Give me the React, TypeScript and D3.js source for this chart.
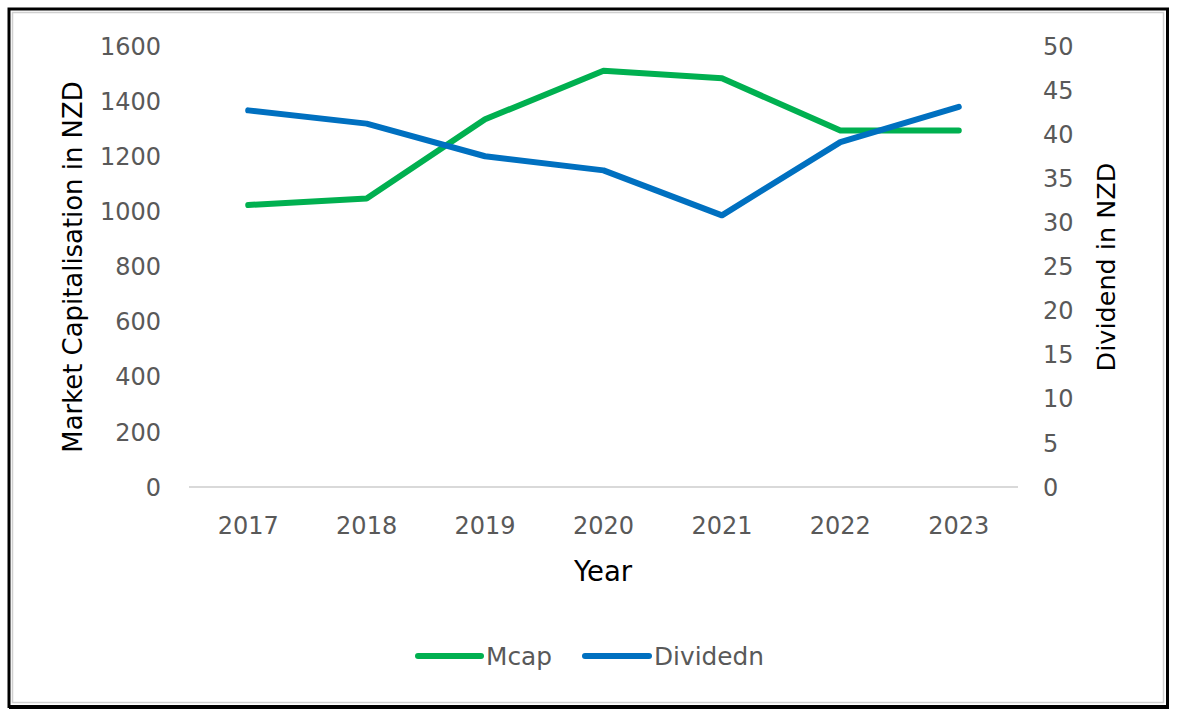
import React from "react";
import * as d3 from "d3";

const years = ["2017", "2018", "2019", "2020", "2021", "2022", "2023"];
const mcap = [1023, 1047, 1334, 1510, 1483, 1293, 1293];
const dividend = [42.7, 41.2, 37.5, 35.9, 30.8, 39.1, 43.1];
const leftTicks = [0, 200, 400, 600, 800, 1000, 1200, 1400, 1600];
const rightTicks = [0, 5, 10, 15, 20, 25, 30, 35, 40, 45, 50];
const seriesNames = ["Mcap", "Dividedn"];

const W = 1178;
const H = 717;
const plot = { left: 189, right: 1018, top: 46, bottom: 487 };
const GREEN = "#00B050";
const BLUE = "#0070C0";
const FONT = "'DejaVu Sans', sans-serif";

export default function App() {
  const x = d3.scaleBand<string>().domain(years).range([plot.left, plot.right]).padding(0);
  const cx = (d: string) => (x(d) as number) + x.bandwidth() / 2;
  const yL = d3.scaleLinear().domain([0, 1600]).range([plot.bottom, plot.top]);
  const yR = d3.scaleLinear().domain([0, 50]).range([plot.bottom, plot.top]);

  const lineL = d3.line<number>().x((_, i) => cx(years[i])).y((d) => yL(d));
  const lineR = d3.line<number>().x((_, i) => cx(years[i])).y((d) => yR(d));

  return (
    <div style={{ position: "absolute", left: 0, top: 0 }}>
      <svg width={W} height={H} style={{ display: "block" }}>
        <rect x={0} y={0} width={W} height={H} fill="#ffffff" />
        {/* frame */}
        <rect x={12.5} y={12.5} width={1151} height={690} fill="none" stroke="#d0d0d0" strokeWidth={1.5} />
        <rect x={9} y={9} width={1158.5} height={697.5} fill="none" stroke="#000" strokeWidth={3} />
        <line x1={1167.5} y1={9} x2={1167.5} y2={709} stroke="#000" strokeWidth={3} />
        <line x1={9} y1={707.5} x2={1169} y2={707.5} stroke="#000" strokeWidth={3} />

        {/* baseline */}
        <line x1={plot.left} x2={plot.right} y1={yL(0)} y2={yL(0)} stroke="#d9d9d9" strokeWidth={2} />

        {/* left ticks */}
        {leftTicks.map((t) => (
          <text key={"l" + t} x={161} y={yL(t)} dy="0.36em" textAnchor="end" fontFamily={FONT} fontSize={24} fill="#595959">
            {t}
          </text>
        ))}
        {/* right ticks */}
        {rightTicks.map((t) => (
          <text key={"r" + t} x={1043} y={yR(t)} dy="0.36em" textAnchor="start" fontFamily={FONT} fontSize={24} fill="#595959">
            {t}
          </text>
        ))}
        {/* x ticks */}
        {years.map((yv) => (
          <text key={yv} x={cx(yv)} y={525} dy="0.36em" textAnchor="middle" fontFamily={FONT} fontSize={24} fill="#595959">
            {yv}
          </text>
        ))}

        {/* axis titles */}
        <text x={603} y={571} dy="0.36em" textAnchor="middle" fontFamily={FONT} fontSize={27.5} fill="#000">
          Year
        </text>
        <text transform="translate(73,267) rotate(-90)" dy="0.36em" textAnchor="middle" fontFamily={FONT} fontSize={25.9} fill="#000">
          Market Capitalisation in NZD
        </text>
        <text transform="translate(1106,267) rotate(-90)" dy="0.36em" textAnchor="middle" fontFamily={FONT} fontSize={25.5} fill="#000">
          Dividend in NZD
        </text>

        {/* lines */}
        <path d={lineL(mcap) || ""} fill="none" stroke={GREEN} strokeWidth={6} strokeLinecap="round" strokeLinejoin="round" />
        <path d={lineR(dividend) || ""} fill="none" stroke={BLUE} strokeWidth={6} strokeLinecap="round" strokeLinejoin="round" />

        {/* legend */}
        <line x1={418} x2={481} y1={656} y2={656} stroke={GREEN} strokeWidth={6} strokeLinecap="round" />
        <text x={486} y={656} dy="0.36em" fontFamily={FONT} fontSize={24.8} fill="#595959">
          {seriesNames[0]}
        </text>
        <line x1={585} x2={649} y1={656} y2={656} stroke={BLUE} strokeWidth={6} strokeLinecap="round" />
        <text x={654} y={656} dy="0.36em" fontFamily={FONT} fontSize={24.8} fill="#595959">
          {seriesNames[1]}
        </text>
      </svg>
    </div>
  );
}
